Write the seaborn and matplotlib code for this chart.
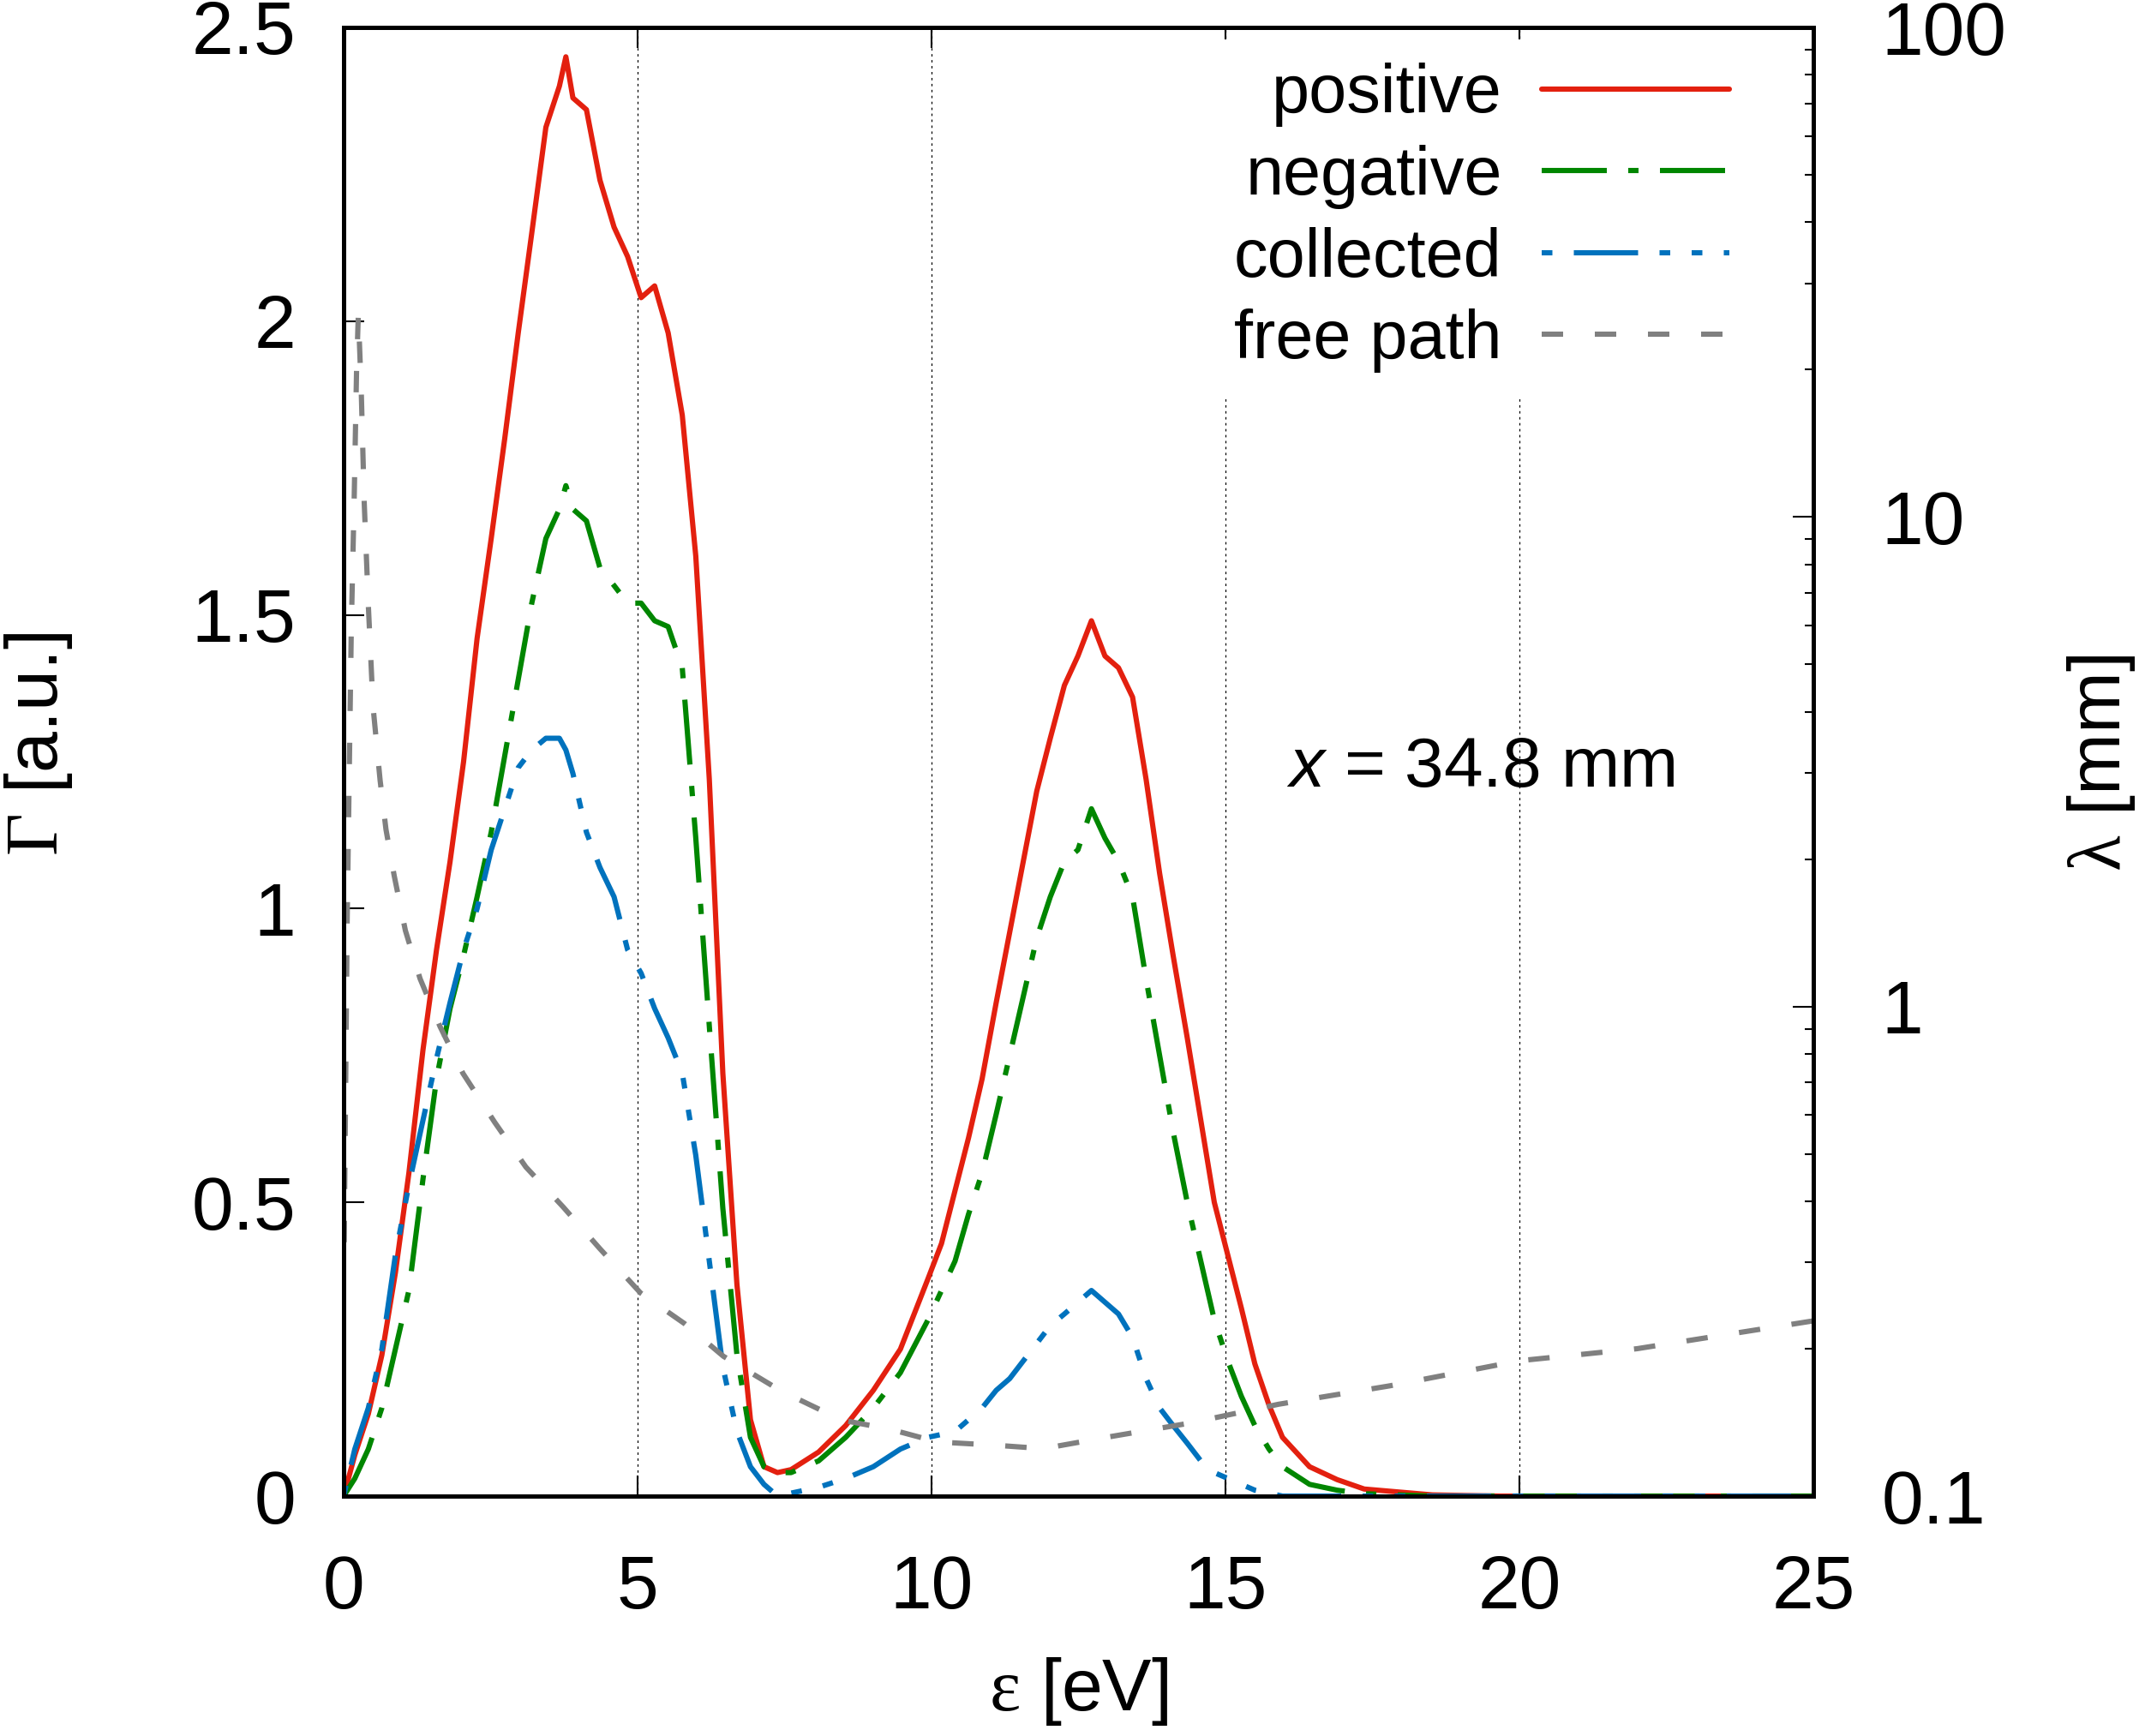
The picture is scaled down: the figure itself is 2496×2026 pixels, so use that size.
import matplotlib
matplotlib.use("Agg")
import matplotlib.pyplot as plt
import seaborn as sns
import pandas as pd
from matplotlib.ticker import FixedLocator, FixedFormatter, LogLocator, NullFormatter

# ---------------- data ----------------
eps = [0, 0.19, 0.42, 0.65, 0.88, 1.11, 1.35, 1.58, 1.81, 2.04, 2.27, 2.51, 2.74, 2.97,
       3.20, 3.44, 3.67, 3.78, 3.90, 4.13, 4.36, 4.60, 4.83, 5.06, 5.29, 5.52, 5.76, 5.99,
       6.22, 6.45, 6.69, 6.92, 7.15, 7.38, 7.61, 8.08, 8.54, 9.01, 9.47, 9.94, 10.17, 10.40,
       10.63, 10.86, 11.10, 11.33, 11.56, 11.79, 12.02, 12.26, 12.49, 12.72, 12.95, 13.18,
       13.42, 13.65, 13.88, 14.11, 14.35, 14.58, 14.81, 15.04, 15.27, 15.50, 15.74, 15.97,
       16.43, 16.90, 17.36, 18.52, 19.68, 25.0]

positive = [0, 0.07, 0.14, 0.24, 0.38, 0.55, 0.76, 0.93, 1.08, 1.25, 1.46, 1.63, 1.80, 1.98,
            2.15, 2.33, 2.40, 2.45, 2.38, 2.36, 2.24, 2.16, 2.11, 2.04, 2.06, 1.98, 1.84, 1.60,
            1.22, 0.72, 0.36, 0.13, 0.05, 0.04, 0.045, 0.075, 0.12, 0.18, 0.25, 0.37, 0.43, 0.52,
            0.61, 0.71, 0.84, 0.96, 1.08, 1.20, 1.29, 1.38, 1.43, 1.49, 1.43, 1.41,
            1.36, 1.22, 1.06, 0.92, 0.78, 0.64, 0.50, 0.41, 0.32, 0.225, 0.155, 0.10,
            0.05, 0.028, 0.012, 0.002, 0.0, 0.0]

negative = [0, 0.03, 0.08, 0.15, 0.25, 0.35, 0.54, 0.71, 0.83, 0.92, 1.02, 1.13, 1.26, 1.39,
            1.52, 1.63, 1.68, 1.72, 1.68, 1.66, 1.58, 1.55, 1.52, 1.52, 1.49, 1.48, 1.41, 1.12,
            0.80, 0.49, 0.24, 0.10, 0.05, 0.04, 0.04, 0.06, 0.10, 0.15, 0.21, 0.30, 0.35, 0.40,
            0.48, 0.55, 0.65, 0.75, 0.85, 0.95, 1.02, 1.08, 1.10, 1.17, 1.12, 1.08,
            1.02, 0.88, 0.75, 0.62, 0.50, 0.40, 0.30, 0.23, 0.17, 0.12, 0.08, 0.05,
            0.02, 0.01, 0.004, 0.0, 0.0, 0.0]

collected = [0, 0.08, 0.15, 0.25, 0.41, 0.53, 0.64, 0.745, 0.84, 0.93, 1.00, 1.10, 1.17, 1.24,
             1.27, 1.29, 1.29, 1.27, 1.23, 1.13, 1.07, 1.02, 0.93, 0.89, 0.83, 0.78, 0.72, 0.58,
             0.40, 0.22, 0.11, 0.05, 0.02, 0.0, 0.005, 0.015, 0.03, 0.05, 0.08, 0.10, 0.105, 0.11,
             0.13, 0.15, 0.18, 0.20, 0.23, 0.26, 0.29, 0.31, 0.33, 0.35, 0.33, 0.31,
             0.27, 0.20, 0.15, 0.12, 0.09, 0.06, 0.04, 0.03, 0.02, 0.01, 0.005, 0.0,
             0.0, 0.0, 0.0, 0.0, 0.0, 0.0]

fp_eps = [0.01, 0.06, 0.13, 0.18, 0.22, 0.25, 0.30, 0.35, 0.42, 0.50, 0.62, 0.72, 0.86, 1.05,
          1.30, 1.64, 2.03, 2.57, 3.10, 3.73, 4.36, 5.05, 5.80, 6.46, 7.44, 8.47, 9.29, 10.1,
          11.1, 11.9, 13.0, 14.4, 15.9, 17.8, 20.0, 22.0, 25.0]
fp_lam = [0.33, 1.5, 5.9, 11.0, 20.0, 26.0, 18.0, 10.7, 6.6, 4.1, 2.9, 2.3, 1.85, 1.43,
          1.14, 0.91, 0.73, 0.58, 0.47, 0.39, 0.32, 0.26, 0.225, 0.193, 0.164, 0.143, 0.137, 0.129,
          0.127, 0.125, 0.132, 0.141, 0.154, 0.168, 0.189, 0.20, 0.228]

series_labels = ["positive", "negative", "collected", "free path"]
x_ticks = [0, 5, 10, 15, 20, 25]
x_tick_labels = ["0", "5", "10", "15", "20", "25"]
y_ticks = [0, 0.5, 1, 1.5, 2, 2.5]
y_tick_labels = ["0", "0.5", "1", "1.5", "2", "2.5"]
y2_ticks = [0.1, 1, 10, 100]
y2_tick_labels = ["0.1", "1", "10", "100"]

# ---------------- style ----------------
sns.set_theme(style="ticks")
plt.rcParams["font.family"] = ["Liberation Sans", "DejaVu Sans"]
plt.rcParams["mathtext.fontset"] = "custom"
plt.rcParams["mathtext.rm"] = "Liberation Serif"
plt.rcParams["mathtext.it"] = "Liberation Sans:italic"
plt.rcParams["lines.scale_dashes"] = False
for key in ("text.color", "axes.labelcolor", "xtick.color", "ytick.color",
            "xtick.labelcolor", "ytick.labelcolor", "axes.edgecolor"):
    plt.rcParams[key] = "black"

RED = "#e3200f"
GREEN = "#008600"
BLUE = "#0072bd"
GRAY = "#808080"
LW = 4.4
FS_TICK = 63
FS_LAB = 62
FS_LEG = 57
PX = 72 / 100.0  # points per pixel

fig = plt.figure(figsize=(24.96, 20.26), dpi=100)
ax = fig.add_axes([401 / 2496, 1 - 1746 / 2026, (2116 - 401) / 2496, (1746 - 32) / 2026])
ax2 = ax.twinx()

df = pd.DataFrame({"eps": eps, "positive": positive, "negative": negative, "collected": collected})
df_fp = pd.DataFrame({"eps": fp_eps, "lam": fp_lam})

sns.lineplot(data=df, x="eps", y="positive", color=RED, lw=LW, ax=ax, legend=False)
l_pos = ax.lines[-1]
sns.lineplot(data=df, x="eps", y="negative", color=GREEN, lw=LW, ax=ax, legend=False)
l_neg = ax.lines[-1]
l_neg.set_linestyle((0, (76 * PX, 25 * PX, 12 * PX, 25 * PX)))
sns.lineplot(data=df, x="eps", y="collected", color=BLUE, lw=LW, ax=ax, legend=False)
l_col = ax.lines[-1]
col_seq = (75 * PX, 25 * PX, 12.5 * PX, 25 * PX, 12.5 * PX, 25 * PX)
l_col.set_linestyle((137.5 * PX, col_seq))
sns.lineplot(data=df_fp, x="eps", y="lam", color=GRAY, lw=LW, ax=ax2, legend=False)
l_fp = ax2.lines[-1]
l_fp.set_linestyle((0, (25 * PX, 37 * PX)))

# ---------------- axes ----------------
ax.set_xlim(0, 25)
ax.set_ylim(0, 2.5)
ax2.set_yscale("log")
ax2.set_ylim(0.1, 100)

ax.xaxis.set_major_locator(FixedLocator(x_ticks))
ax.xaxis.set_major_formatter(FixedFormatter(x_tick_labels))
ax.yaxis.set_major_locator(FixedLocator(y_ticks))
ax.yaxis.set_major_formatter(FixedFormatter(y_tick_labels))
ax2.yaxis.set_major_locator(FixedLocator(y2_ticks))
ax2.yaxis.set_major_formatter(FixedFormatter(y2_tick_labels))
ax2.yaxis.set_minor_locator(LogLocator(base=10, subs=range(2, 10)))
ax2.yaxis.set_minor_formatter(NullFormatter())

ax.grid(axis="x", color="black", linestyle=(0, (2, 3)), lw=0.9)
ax.grid(axis="y", visible=False)
ax.set_axisbelow(True)

ax.tick_params(axis="x", which="major", direction="in", length=17, width=1.5,
               labelsize=FS_TICK, pad=49, top=True, bottom=True, colors="black")
ax.tick_params(axis="y", which="major", direction="in", length=17, width=1.5,
               labelsize=FS_TICK, pad=40, left=True, right=False, colors="black")
ax2.tick_params(axis="y", which="major", direction="in", length=17, width=1.5,
                labelsize=FS_TICK, pad=57, colors="black")
ax2.tick_params(axis="y", which="minor", direction="in", length=7, width=1.5, colors="black")

for a in (ax, ax2):
    for s in a.spines.values():
        s.set_linewidth(3.6)
        s.set_color("black")
        s.set_visible(True)

ax.set_xlabel(r"$\mathrm{ε}$ [eV]", fontsize=FS_LAB, color="black")
ax.set_ylabel(r"$\mathrm{Γ}$ [a.u.]", fontsize=FS_LAB, color="black")
ax2.set_ylabel(r"$\mathrm{λ}$ [mm]", fontsize=FS_LAB, color="black")
ax.xaxis.set_label_coords(0.5, -0.133)
ax.xaxis.label.set_va("center")
ax.yaxis.set_label_coords(-0.2077, 0.512)
ax.yaxis.label.set_va("center")
ax2.yaxis.set_label_coords(1.196, 0.499)
ax2.yaxis.label.set_va("center")

ax.text(16.04, 1.208, r"$\mathit{x}$ = 34.8 mm", fontsize=59, ha="left", va="baseline",
        color="black")

leg = ax2.legend([l_pos, l_neg, l_col, l_fp], series_labels, loc="upper right",
                 bbox_to_anchor=(0.959, 0.992), markerfirst=False, frameon=True,
                 fontsize=FS_LEG, handlelength=2.77, handletextpad=0.58, labelspacing=0.26,
                 borderpad=0.35, borderaxespad=0, fancybox=False)
leg.get_frame().set_edgecolor("none")
leg.get_frame().set_facecolor("white")
leg.get_frame().set_alpha(1.0)
for t in leg.get_texts():
    t.set_color("black")

fig.savefig("out.png", dpi=100)
